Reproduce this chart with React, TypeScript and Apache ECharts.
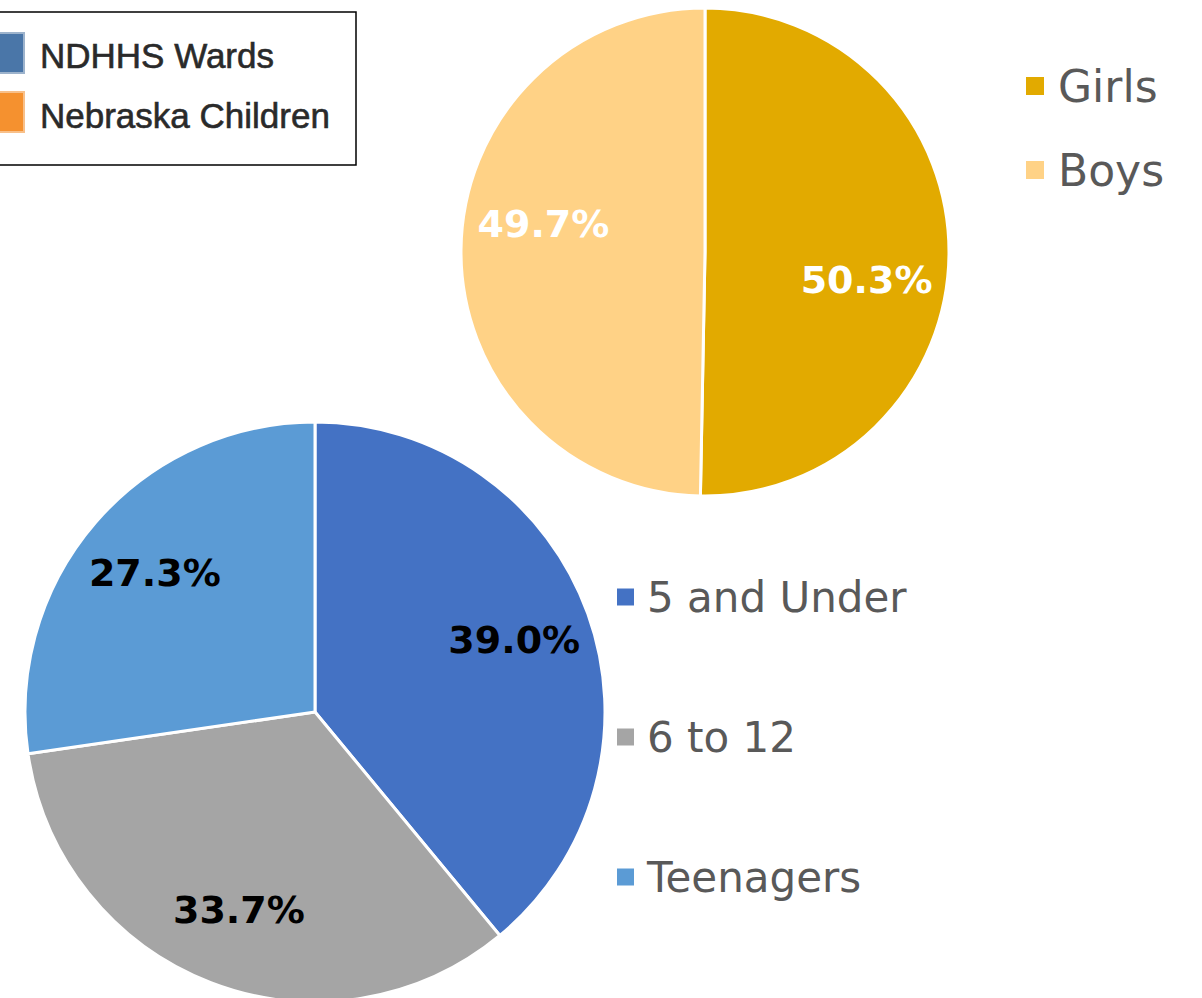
import React, { useEffect, useRef } from "react";
import * as echarts from "echarts";

const genderNames = ["Girls", "Boys"];
const genderValues = [50.3, 49.7];
const genderColors = ["#E2AA00", "#FFD286"];

const ageNames = ["5 and Under", "6 to 12", "Teenagers"];
const ageValues = [39.0, 33.7, 27.3];
const ageColors = ["#4472C4", "#A5A5A5", "#5B9BD5"];

const boxLegendNames = ["NDHHS Wards", "Nebraska Children"];
const boxLegendColors = ["#4A76A8", "#F5912F"];

function midDirs(values: number[], rotateDeg: number) {
  const total = values.reduce((a, b) => a + b, 0);
  let acc = 0;
  return values.map((v) => {
    const mid = ((acc + v / 2) / total) * Math.PI * 2;
    acc += v;
    return [mid, Math.sin(mid), -Math.cos(mid), (rotateDeg * Math.PI) / 180];
  });
}

export default function App() {
  const ref = useRef<HTMLDivElement>(null);
  useEffect(() => {
    document.body.style.margin = "0";
    const chart = echarts.init(ref.current!, null, { renderer: "svg" });
    const gR = 244;
    const aR = 290;
    const gDirs = midDirs(genderValues, 9.5);
    const aDirs = midDirs(ageValues, 0);
    const labelFont = "DejaVu Sans";
    // move label from r/2 (inside default) to factor*r, rotated by an angle
    const shift = (d: number[], r: number, f: number) => {
      const a = d[0] + d[3];
      const tx = Math.sin(a) * r * f;
      const ty = -Math.cos(a) * r * f;
      return { dx: tx - d[1] * r * 0.5, dy: ty - d[2] * r * 0.5 };
    };
    chart.setOption({
      animation: false,
      backgroundColor: "#ffffff",
      legend: [
        {
          orient: "vertical",
          left: 1019,
          top: 59,
          itemWidth: 20,
          itemHeight: 20,
          itemGap: 40,
          icon: "rect",
          data: genderNames,
          textStyle: { fontFamily: labelFont, fontSize: 44, lineHeight: 44, color: "#595959", padding: [0, 0, 0, 8] },
        },
        {
          orient: "vertical",
          left: 610,
          top: 571,
          itemWidth: 19,
          itemHeight: 19,
          itemGap: 98,
          icon: "rect",
          data: ageNames,
          textStyle: { fontFamily: labelFont, fontSize: 42, lineHeight: 40, color: "#595959", padding: [0, 0, 0, 7] },
        },
      ],
      graphic: [
        { type: "rect", shape: { x: -2, y: 12, width: 358, height: 153 }, style: { fill: "#fff", stroke: "#000", lineWidth: 1.5 } },
        ...boxLegendNames.flatMap((n, i) => [
          { type: "rect", shape: { x: -4, y: 33 + i * 59, width: 28, height: 40 }, style: { fill: boxLegendColors[i], stroke: i === 0 ? "#9DB3CC" : "#F8C08A", lineWidth: 2 } },
          { type: "text", x: 40, y: 55 + i * 60, style: { text: n, fontFamily: "Liberation Sans", fontSize: 35, fill: "#2a2a2a", stroke: "#2a2a2a", lineWidth: 0.6, verticalAlign: "middle" } },
        ]),
      ],
      series: [
        {
          type: "pie",
          center: [705, 252],
          radius: [0, gR],
          startAngle: 90,
          clockwise: true,
          itemStyle: { borderColor: "#fff", borderWidth: 3 },
          label: {
            position: "inside",
            formatter: (p: any) => p.value.toFixed(1) + "%",
            color: "#fff",
            fontFamily: labelFont,
            fontWeight: "bold",
            fontSize: 38,
          },
          labelLayout: (p: any) => shift(gDirs[p.dataIndex], gR, 0.66),
          data: genderNames.map((n, i) => ({ name: n, value: genderValues[i], itemStyle: { color: genderColors[i] } })),
        },
        {
          type: "pie",
          center: [315, 712],
          radius: [0, aR],
          startAngle: 90,
          clockwise: true,
          itemStyle: { borderColor: "#fff", borderWidth: 3 },
          label: {
            position: "inside",
            formatter: (p: any) => p.value.toFixed(1) + "%",
            color: "#000",
            fontFamily: labelFont,
            fontWeight: "bold",
            fontSize: 38,
          },
          labelLayout: (p: any) => shift(aDirs[p.dataIndex], aR, 0.72),
          data: ageNames.map((n, i) => ({ name: n, value: ageValues[i], itemStyle: { color: ageColors[i] } })),
        },
      ],
    });
    return () => chart.dispose();
  }, []);
  return <div ref={ref} style={{ width: 1202, height: 998 }} />;
}
